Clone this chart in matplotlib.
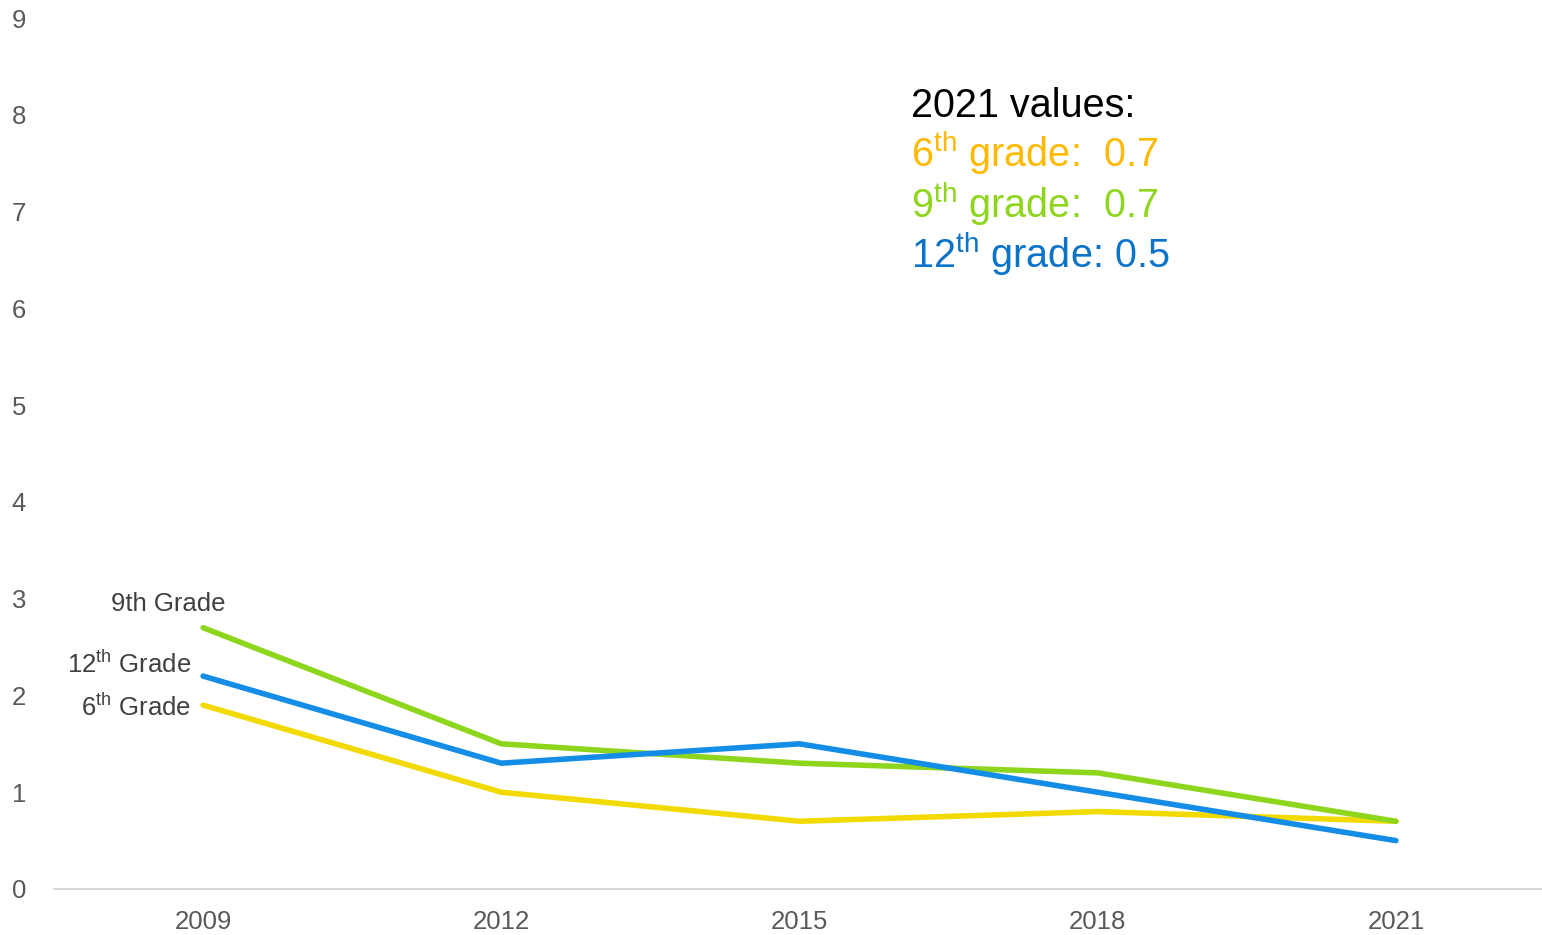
import matplotlib

matplotlib.use("Agg")
import matplotlib.pyplot as plt

years = ["2009", "2012", "2015", "2018", "2021"]
grade6 = [1.9, 1.0, 0.7, 0.8, 0.7]
grade9 = [2.7, 1.5, 1.3, 1.2, 0.7]
grade12 = [2.2, 1.3, 1.5, 1.0, 0.5]
yticks = list(range(0, 10))

YELLOW = "#f2d900"
GREEN = "#8ed61e"
BLUE = "#138de6"
YELLOW_TXT = "#ffb900"
GREEN_TXT = "#8ed61e"
BLUE_TXT = "#0b74c9"
GREY = "#595959"

plt.rcParams["font.family"] = ["Liberation Sans", "DejaVu Sans"]
plt.rcParams["mathtext.fontset"] = "custom"
plt.rcParams["mathtext.rm"] = "Liberation Sans"

W, H = 1542, 935
fig = plt.figure(figsize=(W / 100, H / 100), dpi=100)
ax = fig.add_axes([54 / W, (H - 889) / H, 1491 / W, 871 / H])

x = range(len(years))
kw = dict(lw=4, solid_capstyle="round", solid_joinstyle="round")
ax.plot(x, grade6, color=YELLOW, zorder=2, **kw)
ax.plot(x, grade9, color=GREEN, zorder=3, **kw)
ax.plot(x, grade12, color=BLUE, zorder=4, **kw)

ax.set_xlim(-0.5, len(years) - 0.5)
ax.set_ylim(0, 9)
ax.set_xticks(list(x))
ax.set_xticklabels(years)
ax.set_yticks(yticks)
ax.tick_params(axis="both", length=0, labelsize=18.5, colors=GREY)
ax.tick_params(axis="x", pad=15)
ax.tick_params(axis="y", pad=20)
for s in ("top", "right", "left"):
    ax.spines[s].set_visible(False)
ax.spines["bottom"].set_color("#d9d9d9")
ax.spines["bottom"].set_linewidth(1.5)

# series labels at the left end
lab = dict(fontsize=18.5, color="#404040", va="baseline")
ax.text(0.075, grade9[0] + 0.17, "9th Grade", ha="right", **lab)
ax.text(-0.04, grade12[0] + 0.03, r"12$^{\mathrm{th}}$ Grade", ha="right", **lab)
ax.text(-0.04, grade6[0] - 0.11, r"6$^{\mathrm{th}}$ Grade", ha="right", **lab)

# 2021 values box
tx = 911 / W
fs = 28.5
fig.text(tx, (H - 117) / H, "2021 values:", fontsize=fs, color="black", va="baseline")
fig.text(tx, (H - 167) / H, r"6$^{\mathrm{th}}$ grade:  " + f"{grade6[-1]}",
         fontsize=fs, color=YELLOW_TXT, va="baseline")
fig.text(tx, (H - 218) / H, r"9$^{\mathrm{th}}$ grade:  " + f"{grade9[-1]}",
         fontsize=fs, color=GREEN_TXT, va="baseline")
fig.text(tx, (H - 268) / H, r"12$^{\mathrm{th}}$ grade: " + f"{grade12[-1]}",
         fontsize=fs, color=BLUE_TXT, va="baseline")

fig.savefig("out.png", dpi=100)
